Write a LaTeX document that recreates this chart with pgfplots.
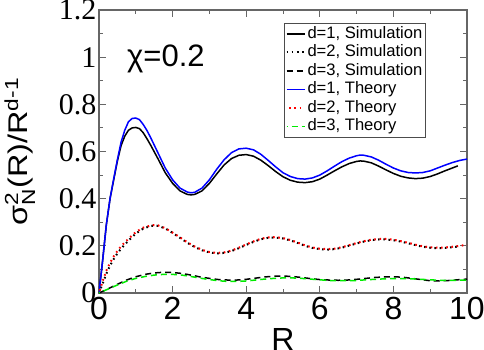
\documentclass[border=0pt]{standalone}
\usepackage{amsmath}
\usepackage{fontspec}
\setmainfont{Liberation Sans}
\newfontfamily\serifnum{Liberation Serif}
\usepackage{pgfplots}
\pgfplotsset{compat=1.18}

\definecolor{thblue}{RGB}{0,0,255}
\definecolor{thred}{RGB}{255,0,0}
\definecolor{thgreen}{RGB}{0,235,0}

\begin{document}
\begin{tikzpicture}
\begin{axis}[
    scale only axis,
    width=368pt, height=283pt,
    xmin=0, xmax=10, ymin=0, ymax=1.2,
    xtick={0,2,...,10}, ytick={0,0.2,...,1.2},
    minor xtick={1,3,...,9}, minor ytick={0.1,0.3,...,1.1},
    tick align=inside,
    major tick length=7pt, minor tick length=4pt,
    axis line style={black!60, line width=1.1pt},
    every tick/.style={black!60, line width=1pt},
    /pgf/number format/assume math mode=true,
    xticklabel style={font=\fontsize{32}{32}\selectfont, yshift=-1pt},
    yticklabel style={font=\serifnum\fontsize{30}{30}\selectfont, xshift=1pt},
    xlabel={R},
    every axis x label/.style={at={(axis description cs:0.5,0)}, anchor=base, yshift=-57pt, font=\fontsize{32}{32}\selectfont},
    ylabel={σ$_{\text{N}}^{\text{2}}$(R)/R$^{\text{d-1}}$},
    every axis y label/.style={at={(rel axis cs:-0.215,0.5)}, rotate=90, anchor=center, xscale=1.2, font=\fontsize{27}{30}\selectfont},
    legend cell align=left,
    legend image code/.code={\draw[#1] (0pt,0pt) -- (18pt,0pt);},
    legend style={at={(rel axis cs:0.503,0.955)}, anchor=north west,
      draw=black!70, line width=0.8pt, inner xsep=1pt, inner ysep=1.5pt,
      font=\fontsize{16.6}{16.6}\selectfont,
      nodes={text height=12pt, text depth=3.5pt, inner ysep=1.5pt, inner xsep=2pt},
      row sep=0pt},
  ]
  % d=1 simulation
  \addplot[black, line width=1.5pt] coordinates {
    (0,0) (0.1,0.14) (0.2,0.29) (0.3,0.40) (0.4,0.48) (0.5,0.56) (0.6,0.625) (0.7,0.665)
    (0.8,0.69) (0.9,0.70) (1.0,0.702) (1.1,0.697) (1.2,0.68) (1.3,0.655) (1.4,0.628)
    (1.6,0.57) (1.8,0.51) (2.0,0.465) (2.2,0.433) (2.4,0.418) (2.5,0.416) (2.6,0.418)
    (2.8,0.433) (3.0,0.465) (3.2,0.505) (3.4,0.543) (3.6,0.57) (3.8,0.584) (4.0,0.587)
    (4.2,0.58) (4.4,0.563) (4.6,0.54) (4.8,0.515) (5.0,0.493) (5.2,0.478) (5.4,0.47)
    (5.6,0.468) (5.8,0.472) (6.0,0.483) (6.2,0.5) (6.4,0.518) (6.6,0.535) (6.8,0.549)
    (7.0,0.558) (7.1,0.56) (7.2,0.559) (7.4,0.552) (7.6,0.538) (7.8,0.522) (8.0,0.507)
    (8.2,0.495) (8.4,0.488) (8.6,0.485) (8.8,0.487) (9.0,0.494) (9.2,0.505) (9.4,0.518)
    (9.6,0.53) (9.75,0.539)
  };
  \addlegendentry{d=1, Simulation}
  % d=2 simulation
  \addplot[black, line width=2pt, dash pattern=on 1.6pt off 3.6pt] coordinates {
    (0,0) (0.1,0.04) (0.2,0.082) (0.3,0.116) (0.4,0.144) (0.5,0.168) (0.6,0.188)
    (0.8,0.222) (1.0,0.252) (1.2,0.273) (1.4,0.284) (1.5,0.286) (1.6,0.285) (1.8,0.274)
    (2.0,0.255) (2.2,0.234) (2.4,0.213) (2.6,0.195) (2.8,0.181) (3.0,0.172) (3.2,0.168)
    (3.4,0.17) (3.6,0.178) (3.8,0.19) (4.0,0.204) (4.2,0.217) (4.4,0.228) (4.6,0.234)
    (4.8,0.235) (5.0,0.231) (5.2,0.223) (5.4,0.212) (5.6,0.2) (5.8,0.191) (6.0,0.186)
    (6.2,0.184) (6.4,0.186) (6.6,0.192) (6.8,0.201) (7.0,0.21) (7.2,0.218) (7.4,0.224)
    (7.6,0.227) (7.8,0.227) (8.0,0.224) (8.2,0.218) (8.4,0.211) (8.6,0.203) (8.8,0.196)
    (9.0,0.192) (9.2,0.19) (9.4,0.191) (9.6,0.194) (9.8,0.198)
  };
  \addlegendentry{d=2, Simulation}
  % d=3 simulation
  \addplot[black, line width=1.5pt, dash pattern=on 6pt off 4pt] coordinates {
    (0,0) (0.25,0.018) (0.5,0.037) (0.75,0.055) (1.0,0.069) (1.25,0.079) (1.5,0.085)
    (1.75,0.088) (2.0,0.087) (2.25,0.083) (2.5,0.076) (2.75,0.068) (3.0,0.062)
    (3.25,0.057) (3.5,0.055) (3.75,0.055) (4.0,0.058) (4.25,0.063) (4.5,0.068)
    (4.75,0.071) (5.0,0.072) (5.25,0.07) (5.5,0.066) (5.75,0.061) (6.0,0.057)
    (6.25,0.055) (6.5,0.054) (6.75,0.055) (7.0,0.058) (7.25,0.062) (7.5,0.066)
    (7.75,0.068) (8.0,0.069) (8.25,0.067) (8.5,0.062) (8.75,0.057) (9.0,0.052)
    (9.25,0.051) (9.5,0.053) (9.75,0.056) (10,0.059)
  };
  \addlegendentry{d=3, Simulation}
  % d=1 theory
  \addplot[thblue, line width=1.5pt] coordinates {
    (0,0) (0.1,0.14) (0.2,0.29) (0.3,0.40) (0.4,0.485) (0.5,0.565) (0.6,0.64) (0.7,0.69)
    (0.8,0.726) (0.9,0.74) (1.0,0.742) (1.1,0.735) (1.2,0.715) (1.3,0.69) (1.4,0.66)
    (1.6,0.595) (1.8,0.53) (2.0,0.48) (2.2,0.445) (2.4,0.428) (2.5,0.425) (2.6,0.427)
    (2.8,0.445) (3.0,0.48) (3.2,0.525) (3.4,0.565) (3.6,0.595) (3.8,0.611) (4.0,0.614)
    (4.2,0.607) (4.4,0.588) (4.6,0.562) (4.8,0.535) (5.0,0.51) (5.2,0.494) (5.4,0.485)
    (5.6,0.483) (5.8,0.488) (6.0,0.5) (6.2,0.518) (6.4,0.538) (6.6,0.557) (6.8,0.572)
    (7.0,0.582) (7.1,0.585) (7.2,0.584) (7.4,0.577) (7.6,0.563) (7.8,0.546) (8.0,0.53)
    (8.2,0.518) (8.4,0.511) (8.6,0.509) (8.8,0.511) (9.0,0.518) (9.2,0.53) (9.4,0.542)
    (9.6,0.553) (9.8,0.562) (10,0.568)
  };
  \addlegendentry{d=1, Theory}
  % d=2 theory
  \addplot[thred, line width=2pt, dash pattern=on 1.6pt off 3.6pt, dash phase=2.6pt] coordinates {
    (0,0) (0.1,0.05) (0.2,0.095) (0.3,0.128) (0.4,0.155) (0.5,0.178) (0.6,0.198)
    (0.8,0.23) (1.0,0.258) (1.2,0.277) (1.4,0.286) (1.5,0.288) (1.6,0.287) (1.8,0.275)
    (2.0,0.256) (2.2,0.236) (2.4,0.215) (2.6,0.197) (2.8,0.183) (3.0,0.174) (3.2,0.17)
    (3.4,0.172) (3.6,0.18) (3.8,0.192) (4.0,0.206) (4.2,0.219) (4.4,0.23) (4.6,0.236)
    (4.8,0.237) (5.0,0.233) (5.2,0.225) (5.4,0.214) (5.6,0.202) (5.8,0.193) (6.0,0.188)
    (6.2,0.186) (6.4,0.188) (6.6,0.194) (6.8,0.203) (7.0,0.212) (7.2,0.22) (7.4,0.226)
    (7.6,0.229) (7.8,0.229) (8.0,0.226) (8.2,0.22) (8.4,0.213) (8.6,0.205) (8.8,0.198)
    (9.0,0.194) (9.2,0.192) (9.4,0.193) (9.6,0.196) (9.8,0.2) (10,0.204)
  };
  \addlegendentry{d=2, Theory}
  % d=3 theory
  \addplot[thgreen, line width=1.5pt, dash pattern=on 6pt off 4pt, dash phase=5pt] coordinates {
    (0,0) (0.25,0.017) (0.5,0.034) (0.75,0.05) (1.0,0.062) (1.25,0.07) (1.5,0.076)
    (1.75,0.079) (2.0,0.079) (2.25,0.076) (2.5,0.07) (2.75,0.063) (3.0,0.057)
    (3.25,0.052) (3.5,0.049) (3.75,0.049) (4.0,0.051) (4.25,0.055) (4.5,0.059)
    (4.75,0.062) (5.0,0.064) (5.25,0.064) (5.5,0.062) (5.75,0.059) (6.0,0.056)
    (6.25,0.053) (6.5,0.052) (6.75,0.052) (7.0,0.053) (7.25,0.056) (7.5,0.058)
    (7.75,0.06) (8.0,0.061) (8.25,0.061) (8.5,0.06) (8.75,0.058) (9.0,0.056)
    (9.25,0.054) (9.5,0.054) (9.75,0.054) (10,0.055)
  };
  \addlegendentry{d=3, Theory}
  \node[anchor=base west, inner sep=0pt, font=\fontsize{31}{31}\selectfont] at (axis cs:0.76,0.96) {χ=0.2};
\end{axis}
\pgfresetboundingbox
\path (-99pt,-56pt) rectangle (385pt,293pt);
\end{tikzpicture}
\end{document}
